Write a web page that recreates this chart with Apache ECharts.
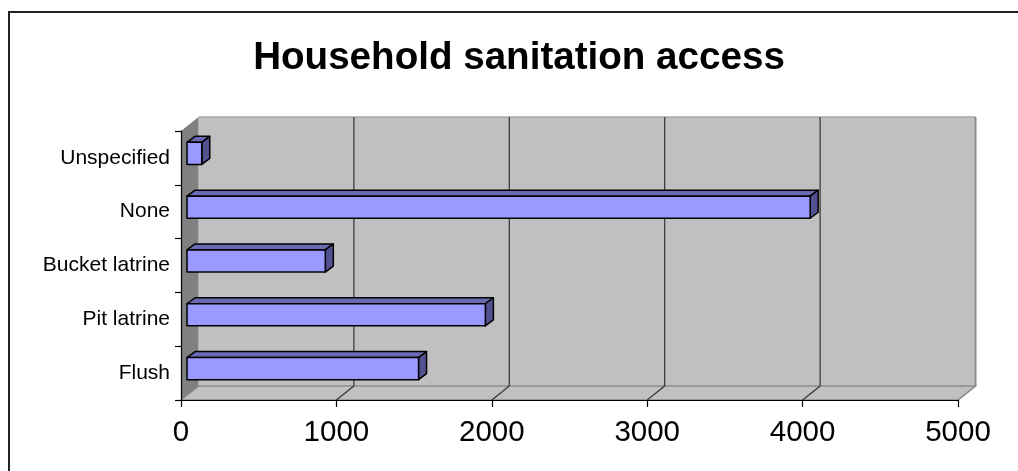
<!DOCTYPE html>
<html>
<head>
<meta charset="utf-8">
<script src="https://cdn.jsdelivr.net/npm/echarts@6/dist/echarts.min.js"></script>
<style>
  html, body { margin: 0; padding: 0; background: #fff; }
  #chart { width: 1018px; height: 471px; }
</style>
</head>
<body>
<div id="chart"></div>
<script>
// Household counts by sanitation type (bottom to top on the category axis)
const categories = ['Flush', 'Pit latrine', 'Bucket latrine', 'None', 'Unspecified'];
const households = [1490, 1920, 890, 4010, 95];
const xTickValues = [0, 1000, 2000, 3000, 4000, 5000];

// 3D look: depth of the walls and of the bars, in pixels
const WALL_DX = 17.5, WALL_DY = -14;
const BAR_SHIFT_X = 6, BAR_SHIFT_Y = -4.5;
const BAR_DX = 8, BAR_DY = -6;
const BAR_RATIO = 0.41;

const FONT = '"Liberation Sans", Arial, sans-serif';

const chart = echarts.init(document.getElementById('chart'), null, { renderer: 'canvas' });

function renderWalls(params, api) {
  const cs = params.coordSys;
  const x0 = cs.x, y0 = cs.y, x1 = cs.x + cs.width, y1 = cs.y + cs.height;
  const children = [];
  // back wall
  children.push({
    type: 'polygon',
    shape: { points: [[x0 + WALL_DX, y0 + WALL_DY], [x1 + WALL_DX, y0 + WALL_DY], [x1 + WALL_DX, y1 + WALL_DY], [x0 + WALL_DX, y1 + WALL_DY]] },
    style: { fill: '#C0C0C0', stroke: null }
  });
  // floor
  children.push({
    type: 'polygon',
    shape: { points: [[x0, y1], [x0 + WALL_DX, y1 + WALL_DY], [x1 + WALL_DX, y1 + WALL_DY], [x1, y1]] },
    style: { fill: '#C0C0C0', stroke: '#8C8C8C', lineWidth: 1.5 }
  });
  // left side wall
  children.push({
    type: 'polygon',
    shape: { points: [[x0, y0], [x0 + WALL_DX, y0 + WALL_DY], [x0 + WALL_DX, y1 + WALL_DY], [x0, y1]] },
    style: { fill: '#808080', stroke: null }
  });
  // top edge of back wall
  children.push({
    type: 'line',
    shape: { x1: x0 + WALL_DX, y1: y0 + WALL_DY, x2: x1 + WALL_DX, y2: y0 + WALL_DY },
    style: { stroke: '#A8A8A8', lineWidth: 1.5 }
  });
  // right edge of back wall
  children.push({
    type: 'line',
    shape: { x1: x1 + WALL_DX, y1: y0 + WALL_DY, x2: x1 + WALL_DX, y2: y1 + WALL_DY },
    style: { stroke: '#8C8C8C', lineWidth: 2 }
  });
  // gridlines on the back wall plus their floor diagonals
  xTickValues.forEach(function (v, i) {
    const px = api.coord([v, 0])[0];
    const last = i === xTickValues.length - 1;
    if (i > 0 && !last) {
      children.push({
        type: 'line',
        shape: { x1: px + WALL_DX, y1: y0 + WALL_DY, x2: px + WALL_DX, y2: y1 + WALL_DY },
        style: { stroke: '#333', lineWidth: 1.2 }
      });
    }
    if (i > 0) {
      children.push({
        type: 'line',
        shape: { x1: px, y1: y1, x2: px + WALL_DX, y2: y1 + WALL_DY },
        style: { stroke: last ? '#8C8C8C' : '#333', lineWidth: 1.2 }
      });
    }
  });
  return { type: 'group', children: children };
}

function renderBar(params, api) {
  const cat = api.value(0);
  const val = api.value(1);
  const start = api.coord([0, cat]);
  const end = api.coord([val, cat]);
  const band = api.size([0, 1])[1];
  const h = band * BAR_RATIO;
  const xa = start[0] + BAR_SHIFT_X;
  const xb = end[0] + BAR_SHIFT_X;
  const yc = start[1] + BAR_SHIFT_Y;
  const yt = yc - h / 2, yb = yc + h / 2;
  const edge = { stroke: '#000', lineWidth: 1.5, lineJoin: 'round' };
  return {
    type: 'group',
    children: [
      {
        type: 'polygon',
        shape: { points: [[xa, yt], [xb, yt], [xb + BAR_DX, yt + BAR_DY], [xa + BAR_DX, yt + BAR_DY]] },
        style: Object.assign({ fill: '#6A6AB2' }, edge)
      },
      {
        type: 'polygon',
        shape: { points: [[xb, yt], [xb + BAR_DX, yt + BAR_DY], [xb + BAR_DX, yb + BAR_DY], [xb, yb]] },
        style: Object.assign({ fill: '#525292' }, edge)
      },
      {
        type: 'rect',
        shape: { x: xa, y: yt, width: xb - xa, height: h },
        style: Object.assign({ fill: '#9999FF' }, edge)
      }
    ]
  };
}

const option = {
  backgroundColor: '#fff',
  animation: false,
  title: {
    text: 'Household sanitation access',
    left: 514,
    top: 34,
    textAlign: 'center',
    textStyle: { fontFamily: FONT, fontSize: 38.6, fontWeight: 'bold', color: '#000' }
  },
  graphic: [{
    type: 'rect',
    shape: { x: 9, y: 12, width: 1040, height: 500 },
    style: { fill: null, stroke: '#222', lineWidth: 2 },
    z: 100
  }],
  grid: { left: 181, right: 60, top: 131, bottom: 71, containLabel: false },
  xAxis: {
    type: 'value',
    min: xTickValues[0],
    max: xTickValues[xTickValues.length - 1],
    interval: xTickValues[1] - xTickValues[0],
    z: 10,
    axisLine: { show: true, lineStyle: { color: '#000', width: 1.2 } },
    axisTick: { show: true, length: 7, lineStyle: { color: '#000', width: 1.2 } },
    splitLine: { show: false },
    axisLabel: {
      fontFamily: FONT, fontSize: 29.5, color: '#000', margin: 18,
      formatter: function (v) { return String(v); }
    }
  },
  yAxis: {
    type: 'category',
    data: categories,
    z: 10,
    axisLine: { show: true, lineStyle: { color: '#000', width: 1.2 } },
    axisTick: { show: true, length: 6, lineStyle: { color: '#000', width: 1.2 } },
    splitLine: { show: false },
    axisLabel: { fontFamily: FONT, fontSize: 21, color: '#000', margin: 11, padding: [0, 0, 6, 0] }
  },
  series: [
    {
      type: 'custom',
      name: 'walls',
      clip: false,
      silent: true,
      z: 1,
      renderItem: renderWalls,
      data: [[0, 0]],
      encode: { x: 0, y: 1 }
    },
    {
      type: 'custom',
      name: 'Households',
      clip: false,
      z: 5,
      renderItem: renderBar,
      encode: { x: 1, y: 0 },
      data: categories.map(function (c, i) { return [i, households[i]]; })
    }
  ]
};

chart.setOption(option);
</script>
</body>
</html>
